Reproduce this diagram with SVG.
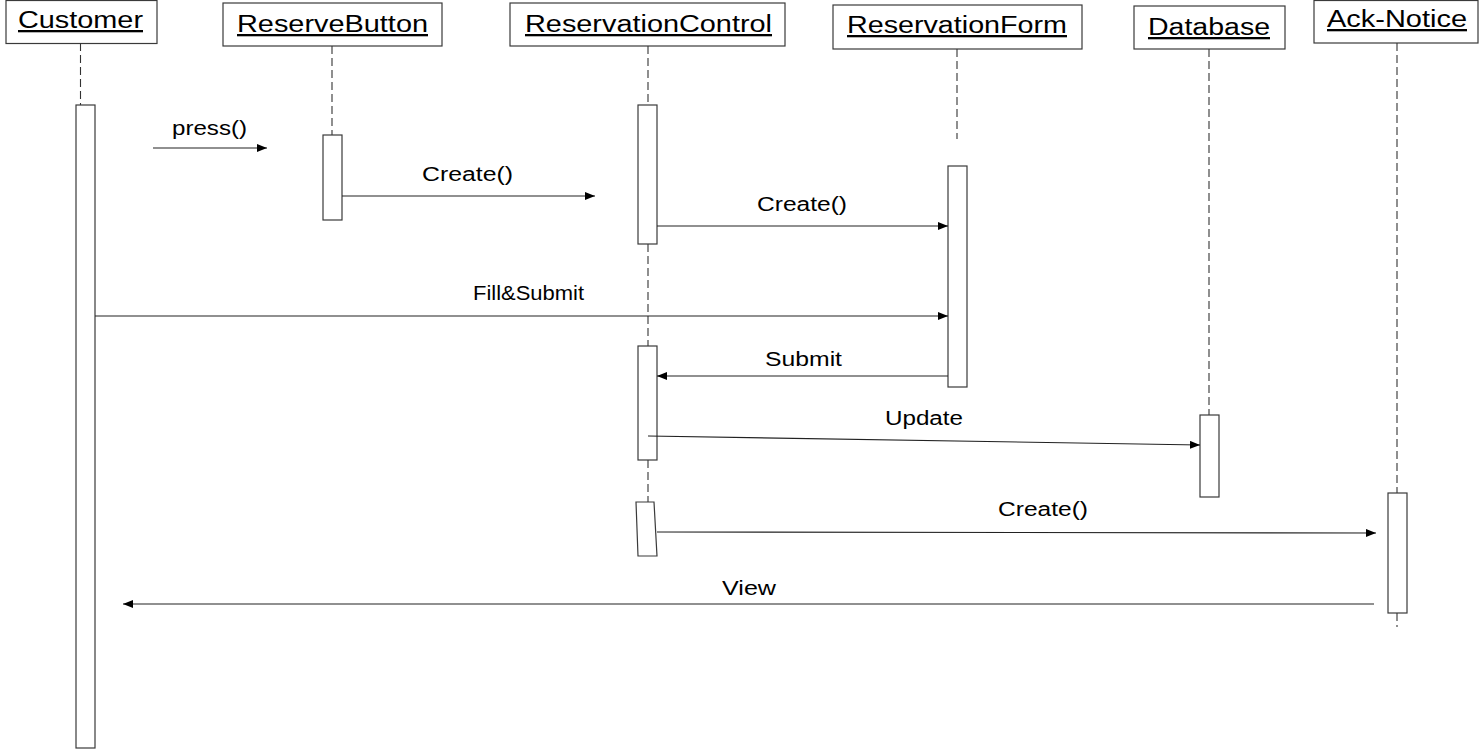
<svg xmlns="http://www.w3.org/2000/svg" width="1479" height="751" viewBox="0 0 1479 751">
<style>
.box{fill:#fff;stroke:#3a3a3a;stroke-width:1.2}
.act{fill:#fff;stroke:#3a3a3a;stroke-width:1.2}
.life{stroke:#333;stroke-width:1.1;stroke-dasharray:8 4;fill:none}
.hdr{font-family:"Liberation Sans",Arial,sans-serif;font-size:23px;text-anchor:middle;text-decoration:underline;fill:#000}
.lbl{font-family:"Liberation Sans",Arial,sans-serif;font-size:20px;text-anchor:middle;fill:#000}
.msg{stroke:#222;stroke-width:1.1;fill:none;marker-end:url(#ah)}
</style>
<defs>
<marker id="ah" markerUnits="userSpaceOnUse" markerWidth="11" markerHeight="9" refX="10" refY="4" orient="auto">
<path d="M0,0 L10,4 L0,8 Z" fill="#000"/>
</marker>
</defs>
<rect width="1479" height="751" fill="#fff"/>

<g id="customer">
<rect class="box" x="6" y="0.5" width="151" height="43"/>
<text class="hdr" x="80.5" y="28" textLength="125" lengthAdjust="spacingAndGlyphs">Customer</text>
<line class="life" x1="80.5" y1="43" x2="80.5" y2="133"/>
<rect class="act" x="76" y="105" width="19" height="643"/>
</g>

<g id="reservebutton">
<rect class="box" x="223" y="3" width="219" height="43"/>
<text class="hdr" x="332.5" y="32" textLength="191" lengthAdjust="spacingAndGlyphs">ReserveButton</text>
<line class="life" x1="332" y1="46" x2="332" y2="135"/>
<rect class="act" x="323" y="135" width="19" height="85"/>
</g>

<g id="reservationcontrol">
<rect class="box" x="510" y="3" width="275" height="43"/>
<text class="hdr" x="648.5" y="32" textLength="247" lengthAdjust="spacingAndGlyphs">ReservationControl</text>
<line class="life" x1="648" y1="46" x2="648" y2="105"/>
<line class="life" x1="648" y1="244" x2="648" y2="346"/>
<line class="life" x1="648" y1="460" x2="648" y2="502"/>
<rect class="act" x="638" y="105" width="19" height="139"/>
<rect class="act" x="638" y="346" width="19" height="114"/>
<polygon class="act" points="636,502 654,502 657,556 638,556"/>
</g>

<g id="reservationform">
<rect class="box" x="833" y="5" width="249" height="44"/>
<text class="hdr" x="957" y="33" textLength="220" lengthAdjust="spacingAndGlyphs">ReservationForm</text>
<line class="life" x1="957" y1="49" x2="957" y2="139"/>
<rect class="act" x="948" y="166" width="19" height="221"/>
</g>

<g id="database">
<rect class="box" x="1134" y="6" width="151" height="43"/>
<text class="hdr" x="1209" y="35" textLength="122" lengthAdjust="spacingAndGlyphs">Database</text>
<line class="life" x1="1209" y1="49" x2="1209" y2="415"/>
<rect class="act" x="1200" y="415" width="19" height="82"/>
</g>

<g id="acknotice">
<rect class="box" x="1314" y="0.5" width="164" height="42.5"/>
<text class="hdr" x="1397" y="27" textLength="140" lengthAdjust="spacingAndGlyphs">Ack-Notice</text>
<line class="life" x1="1397" y1="43" x2="1397" y2="493"/>
<rect class="act" x="1388" y="493" width="19" height="120"/>
<line class="life" x1="1397" y1="613" x2="1397" y2="627"/>
</g>

<g id="connectors">
<line class="msg" x1="153" y1="148" x2="267" y2="148"/>
<text class="lbl" x="209.5" y="135" textLength="75" lengthAdjust="spacingAndGlyphs">press()</text>

<line class="msg" x1="342" y1="196" x2="595" y2="196"/>
<text class="lbl" x="467.5" y="181" textLength="91" lengthAdjust="spacingAndGlyphs">Create()</text>

<line class="msg" x1="657" y1="226" x2="948" y2="226"/>
<text class="lbl" x="802" y="211" textLength="90" lengthAdjust="spacingAndGlyphs">Create()</text>

<line class="msg" x1="95" y1="316" x2="948" y2="316"/>
<text class="lbl" x="528.5" y="300" textLength="111" lengthAdjust="spacingAndGlyphs">Fill&amp;Submit</text>

<line class="msg" x1="948" y1="376" x2="657" y2="376"/>
<text class="lbl" x="803.5" y="366" textLength="77" lengthAdjust="spacingAndGlyphs">Submit</text>

<line class="msg" x1="648" y1="436" x2="1200" y2="445"/>
<text class="lbl" x="924" y="425" textLength="78" lengthAdjust="spacingAndGlyphs">Update</text>

<line class="msg" x1="657" y1="532" x2="1376" y2="533"/>
<text class="lbl" x="1043" y="516" textLength="90" lengthAdjust="spacingAndGlyphs">Create()</text>

<line class="msg" x1="1374" y1="604" x2="123" y2="604"/>
<text class="lbl" x="749" y="595" textLength="54" lengthAdjust="spacingAndGlyphs">View</text>
</g>
</svg>
